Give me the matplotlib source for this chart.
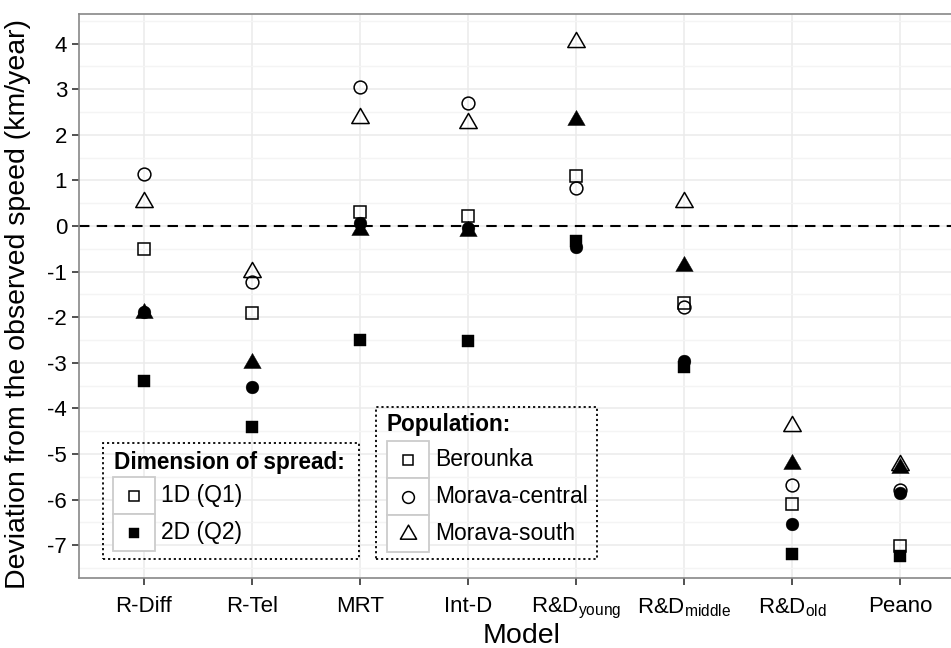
import matplotlib
matplotlib.use("Agg")
import matplotlib.pyplot as plt
from matplotlib.patches import Rectangle
from matplotlib.lines import Line2D
from matplotlib.path import Path
from matplotlib.ticker import MultipleLocator

plt.rcParams["font.family"] = ["Liberation Sans", "DejaVu Sans"]
plt.rcParams["mathtext.default"] = "regular"

models = ["R-Diff", "R-Tel", "MRT", "Int-D", "R&D$_{young}$",
          "R&D$_{middle}$", "R&D$_{old}$", "Peano"]

# deviation from observed speed (km/year), by population and dimension
berounka_1d = [-0.50, -1.91, 0.31, 0.23, 1.10, -1.68, -6.09, -7.02]
berounka_2d = [-3.41, -4.41, -2.51, -2.52, -0.33, -3.09, -7.19, -7.24]
central_1d = [1.13, -1.22, 3.05, 2.70, 0.83, -1.78, -5.69, -5.80]
central_2d = [-1.88, -3.53, 0.07, -0.05, -0.47, -2.96, -6.54, -5.85]
south_1d = [0.53, -1.01, 2.36, 2.25, 4.04, 0.53, -4.38, -5.24]
south_2d = [-1.91, -3.00, -0.09, -0.12, 2.32, -0.88, -5.22, -5.31]

populations = ["Berounka", "Morava-central", "Morava-south"]
dimensions = ["1D (Q1)", "2D (Q2)"]

# equilateral triangle centred on its centroid (like R's pch 2 / 17)
TRI = Path([(0, 1), (-0.866, -0.5), (0.866, -0.5), (0, 1)], closed=True)
shape = {"Berounka": ("s", 8.3), "Morava-central": ("o", 9.2), "Morava-south": (TRI, 14.5)}
filled_size = {"Berounka": 9.0, "Morava-central": 9.2, "Morava-south": 14.5}

W, H = 951, 648
fig = plt.figure(figsize=(W / 100, H / 100), dpi=100)
ax = fig.add_axes([79 / W, (H - 578) / H, (965 - 79) / W, (578 - 14) / H])

x = list(range(1, len(models) + 1))
series = [("Berounka", berounka_1d, berounka_2d),
          ("Morava-central", central_1d, central_2d),
          ("Morava-south", south_1d, south_2d)]

ax.axhline(0, color="black", lw=1.5, ls=(0, (5, 3.5)), zorder=2)

for pop, v1, v2 in series:
    m, s = shape[pop]
    ax.plot(x, v1, ls="none", marker=m, ms=s, mfc="none", mec="black", mew=1.1, zorder=3)
    ax.plot(x, v2, ls="none", marker=m, ms=filled_size[pop], mfc="black", mec="black", mew=0.3, zorder=3)

ax.set_xlim(0.4, 8.6)
ax.set_ylim(-7.72, 4.65)
ax.set_xticks(x)
ax.set_xticklabels(models, fontsize=16)
ax.yaxis.set_major_locator(MultipleLocator(1))
ax.yaxis.set_minor_locator(MultipleLocator(0.5))
ax.tick_params(axis="y", which="minor", length=0)
ax.tick_params(which="major", length=5, width=1.2, color="#333333", labelsize=16, labelcolor="black")
ax.tick_params(axis="x", pad=8)
ax.set_yticklabels([str(int(t)) for t in ax.get_yticks()])
ax.grid(True, which="major", color="#EBEBEB", lw=1.1)
ax.grid(True, which="minor", axis="y", color="#F4F4F4", lw=1.0)
ax.set_axisbelow(True)
for sp in ax.spines.values():
    sp.set_color("#888888")
    sp.set_linewidth(1.2)
ax.spines["right"].set_visible(False)

ax.set_xlabel("Model", fontsize=20.5, labelpad=1)
ax.set_ylabel("Deviation from the observed speed (km/year)", fontsize=20.5)
ax.yaxis.set_label_coords(-0.054, 0.485)


def px(xp, yp):
    return xp / W, 1 - yp / H


def draw_legend(box, title, title_xy, key_x, row_top, labels, markers, sizes, fills):
    x0, y0, x1, y1 = box
    fig.add_artist(Rectangle(px(x0, y1), (x1 - x0) / W, (y1 - y0) / H, transform=fig.transFigure,
                             fill=False, ec="black", lw=1.3, ls=(0, (1.2, 1.6))))
    tx, ty = px(*title_xy)
    fig.text(tx, ty, title, fontsize=16.3, fontweight="bold", va="center", ha="left")
    kw, kh = 42, 37
    for i, (lab, mk, ms, fc) in enumerate(zip(labels, markers, sizes, fills)):
        top = row_top + i * kh
        fig.add_artist(Rectangle(px(key_x, top + kh), kw / W, kh / H, transform=fig.transFigure,
                                 fc="white", ec="#CCCCCC", lw=1.3))
        cx, cy = px(key_x + kw / 2, top + kh / 2)
        fig.add_artist(Line2D([cx], [cy], transform=fig.transFigure, marker=mk, ms=ms,
                              mfc=fc, mec="black", mew=1.1 if fc == "none" else 0.3, ls="none"))
        lx, ly = px(key_x + kw + 6, top + kh / 2)
        fig.text(lx, ly, lab, fontsize=16.5, va="center", ha="left")


draw_legend((103, 443, 359, 559), "Dimension of spread:", (114, 462), 113, 477,
            dimensions, ["s", "s"], [7.5, 7.5], ["none", "black"])
draw_legend((376, 407, 597, 559), "Population:", (387, 425), 387, 441,
            populations, ["s", "o", TRI], [7.5, 8.5, 13.5], ["none", "none", "none"])

fig.savefig("out.png", dpi=100)
